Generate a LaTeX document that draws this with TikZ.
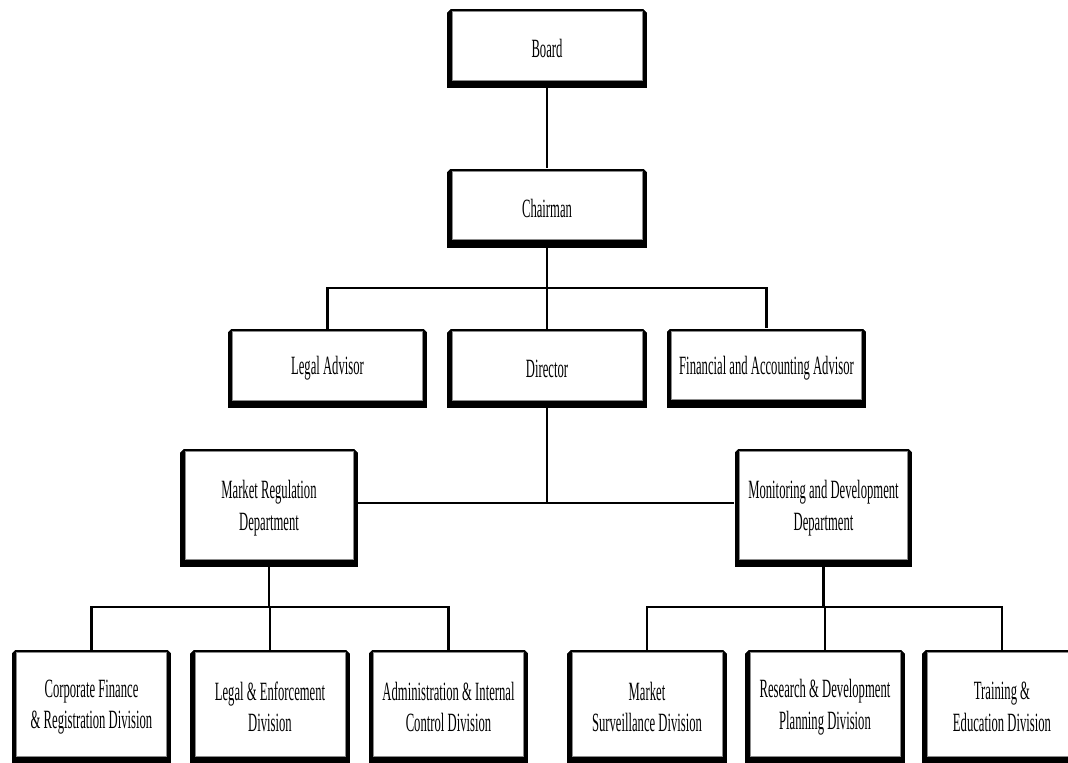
\documentclass[tikz,border=0pt]{standalone}
\usepackage{fontspec}
\setmainfont[FakeStretch=0.48]{Liberation Serif}
\usepackage{tikz}

\tikzset{
  unitbox/.style={fill=black, inner sep=0pt, align=center, minimum width=4cm, minimum height=1.58cm,
    path picture={
      \fill[white, draw=black!45, line width=0.5pt] ([shift={(0.1cm,0.16cm)}]path picture bounding box.south west) rectangle ([shift={(-0.1cm,-0.05cm)}]path picture bounding box.north east);
      \fill[white] (path picture bounding box.north west) -- ++(0.07cm,0) -- ++(-0.07cm,-0.07cm) -- cycle;
      \fill[white] (path picture bounding box.north east) -- ++(-0.07cm,0) -- ++(0.07cm,-0.07cm) -- cycle;
    }},
  deptbox/.style={unitbox, minimum width=3.56cm, minimum height=2.36cm},
  divbox/.style={unitbox, minimum width=3.2cm, minimum height=2.28cm},
  link/.style={line width=1.3pt}
}

\begin{document}
\begin{tikzpicture}[x=0.02cm, y=-0.02cm, font=\fontsize{15}{18}\selectfont]
\useasboundingbox (0,0) rectangle (1068,762);

\node[unitbox] (Board) at (547,48.5) {Board};
\node[unitbox] (Chairman) at (547,208) {Chairman};
\node[unitbox] (LegalAdvisor) at (327.5,368.5) {Legal Advisor};
\node[unitbox] (Director) at (547,368.5) {Director};
\node[unitbox] (FinAdvisor) at (766.5,368) {Financial and Accounting Advisor};
\node[deptbox] (MarketReg) at (269,508) {Market Regulation\\Department};
\node[deptbox] (Monitoring) at (823.5,508) {Monitoring and Development\\Department};
\node[divbox] (CorpFin) at (91.5,707) {Corporate Finance\\\& Registration Division};
\node[divbox] (LegalDiv) at (270,707) {Legal \& Enforcement\\Division};
\node[divbox] (AdminDiv) at (448.5,707) {Administration \& Internal\\Control Division};
\node[divbox] (Surveillance) at (647,707) {Market\\Surveillance Division};
\node[divbox] (Research) at (825,707) {Research \& Development\\Planning Division};
\node[divbox] (Training) at (1002,707) {Training \&\\Education Division};

\coordinate (chairbar) at (547,288);
\coordinate (deptbar) at (547,503);
\coordinate (mrbar) at (270,607);
\coordinate (mdbar) at (823,607);

\draw[link] (Board.south) -- (Chairman.north);
\draw[link] (Chairman.south) -- (Director.north);
\draw[link] (LegalAdvisor.north) -- (LegalAdvisor.north |- chairbar) -- (FinAdvisor.north |- chairbar) -- (FinAdvisor.north);
\draw[link] (Director.south) -- (deptbar);
\draw[link] (MarketReg.east |- deptbar) -- (Monitoring.west |- deptbar);

\draw[link] (MarketReg.south) -- (MarketReg.south |- mrbar);
\draw[link] (CorpFin.north) -- (CorpFin.north |- mrbar) -- (AdminDiv.north |- mrbar) -- (AdminDiv.north);
\draw[link] (LegalDiv.north) -- (LegalDiv.north |- mrbar);

\draw[link] (Monitoring.south) -- (Monitoring.south |- mdbar);
\draw[link] (Surveillance.north) -- (Surveillance.north |- mdbar) -- (Training.north |- mdbar) -- (Training.north);
\draw[link] (Research.north) -- (Research.north |- mdbar);

\end{tikzpicture}
\end{document}
